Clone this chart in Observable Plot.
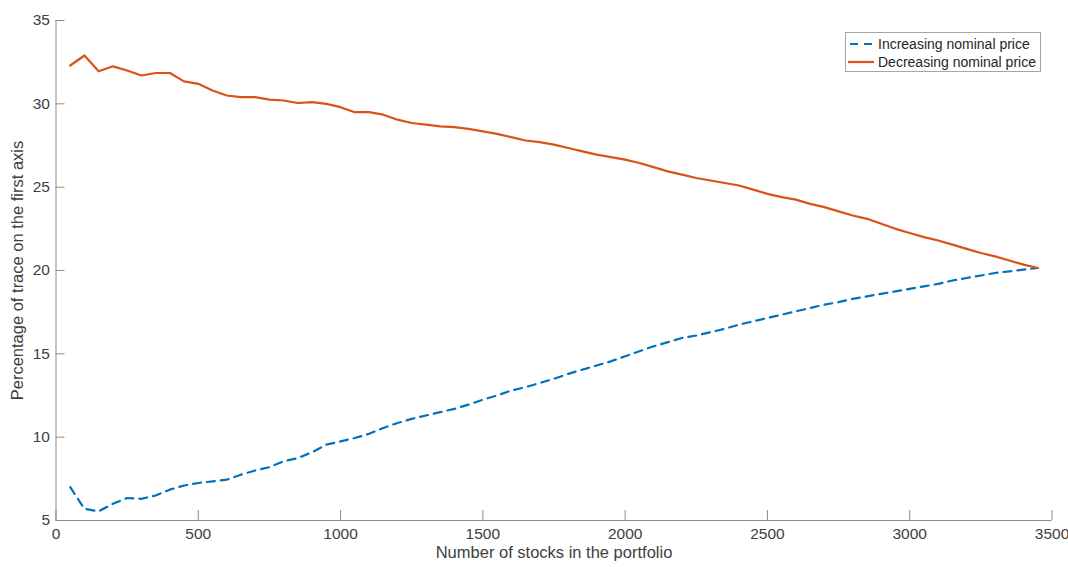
<!DOCTYPE html>
<html><head><meta charset="utf-8">
<script src="https://cdn.jsdelivr.net/npm/d3@7"></script>
<script src="https://cdn.jsdelivr.net/npm/@observablehq/plot@0.6"></script>
<style>
body{margin:0;background:#fff;font-family:"Liberation Sans",Arial,sans-serif;}
#wrap{position:relative;width:1068px;height:567px;}
.legend{position:absolute;left:845px;top:32px;width:196px;height:40px;border:1px solid #a6a6a6;background:#fff;box-sizing:border-box;font-size:14px;color:#262626;}
.legend .row{position:absolute;left:2px;height:18px;display:flex;align-items:center;white-space:nowrap;}
.legend svg{margin-right:4px;}
</style></head><body><div id="wrap"></div>
<script>
const stocks = [50,100,150,200,250,300,350,400,450,500,550,600,650,700,750,800,850,900,950,1000,
1050,1100,1150,1200,1250,1300,1350,1400,1450,1500,1550,1600,1650,1700,1750,1800,1850,1900,1950,2000,
2050,2100,2150,2200,2250,2300,2350,2400,2450,2500,2550,2600,2650,2700,2750,2800,2850,2900,2950,3000,
3050,3100,3150,3200,3250,3300,3350,3400,3450];
const increasing = [7.0,5.7,5.55,6.0,6.35,6.3,6.5,6.85,7.1,7.25,7.35,7.45,7.75,8.0,8.2,8.55,8.75,9.1,9.55,9.75,
9.95,10.2,10.55,10.85,11.1,11.3,11.5,11.7,11.95,12.25,12.5,12.8,13.0,13.25,13.5,13.8,14.05,14.3,14.55,14.85,
15.15,15.45,15.7,15.95,16.1,16.3,16.5,16.75,16.95,17.15,17.35,17.55,17.75,17.95,18.1,18.3,18.45,18.6,18.75,18.9,
19.05,19.2,19.4,19.55,19.7,19.85,19.95,20.05,20.15];
const decreasing = [32.3,32.9,31.95,32.25,32.0,31.7,31.85,31.85,31.35,31.2,30.8,30.5,30.4,30.4,30.25,30.2,30.05,30.1,30.0,29.8,
29.5,29.5,29.35,29.05,28.85,28.75,28.65,28.6,28.5,28.35,28.2,28.0,27.8,27.7,27.55,27.35,27.15,26.95,26.8,26.65,
26.45,26.2,25.95,25.75,25.55,25.4,25.25,25.1,24.85,24.6,24.4,24.25,24.0,23.8,23.55,23.3,23.1,22.8,22.5,22.25,
22.0,21.8,21.55,21.3,21.05,20.85,20.6,20.35,20.15];
const xTicks = [0,500,1000,1500,2000,2500,3000,3500];
const yTicks = [5,10,15,20,25,30,35];
const seriesNames = ["Increasing nominal price","Decreasing nominal price"];
const seriesColors = ["#0072BD","#D95319"];
const xTitle = "Number of stocks in the portfolio";
const yTitle = "Percentage of trace on the first axis";

const incData = stocks.map((x,i)=>({x, y: increasing[i]}));
const decData = stocks.map((x,i)=>({x, y: decreasing[i]}));

const W=1068, H=567, mL=55.5, mR=16.5, mT=20, mB=47;
const axisColor = "#8c8c8c";
const textColor = "#404040";

const plot = Plot.plot({
  width: W, height: H,
  marginLeft: mL, marginRight: mR, marginTop: mT, marginBottom: mB,
  style: {fontFamily: '"Liberation Sans", Arial, sans-serif', fontSize: "15.5px", color: textColor, background: "#fff", overflow: "visible"},
  x: {domain: [0, 3500]},
  y: {domain: [5, 35]},
  marks: [
    Plot.ruleY([5], {stroke: axisColor, strokeWidth: 1}),
    Plot.ruleX([0], {stroke: axisColor, strokeWidth: 1}),
    Plot.ruleX(xTicks, {x: d=>d, stroke: axisColor, insetTop: H-mT-mB-10}),
    Plot.ruleY(yTicks, {y: d=>d, stroke: axisColor, insetRight: W-mL-mR-9}),
    Plot.axisX(xTicks, {tickSize: 0, tickPadding: 7, label: null, fill: textColor, fontSize: 15.5, tickFormat: d => String(d)}),
    Plot.axisY(yTicks, {tickSize: 0, tickPadding: 6, label: null, fill: textColor, fontSize: 15.5, tickFormat: d => String(d)}),
    Plot.line(incData, {x: "x", y: "y", stroke: seriesColors[0], strokeWidth: 2.2, strokeDasharray: "8,6"}),
    Plot.line(decData, {x: "x", y: "y", stroke: seriesColors[1], strokeWidth: 2.2}),
    Plot.text([xTitle], {text: d=>d, frameAnchor: "bottom", dy: 37, fontSize: 16.5, fill: textColor}),
    Plot.text([yTitle], {text: d=>d, frameAnchor: "left", textAnchor: "middle", dx: -38, rotate: -90, fontSize: 16.5, fill: textColor})
  ]
});
const wrap = document.getElementById("wrap");
wrap.appendChild(plot);

const legend = document.createElement("div");
legend.className = "legend";
seriesNames.forEach((name, i) => {
  const row = document.createElement("div");
  row.className = "row";
  row.style.top = (2 + i*18) + "px";
  const dash = i === 0 ? 'stroke-dasharray="8,6"' : '';
  row.innerHTML = `<svg width="26" height="10"><line x1="0" x2="26" y1="5" y2="5" stroke="${seriesColors[i]}" stroke-width="2.2" ${dash} stroke-dashoffset="-2"/></svg><span>${name}</span>`;
  legend.appendChild(row);
});
wrap.appendChild(legend);
</script>
</body></html>
